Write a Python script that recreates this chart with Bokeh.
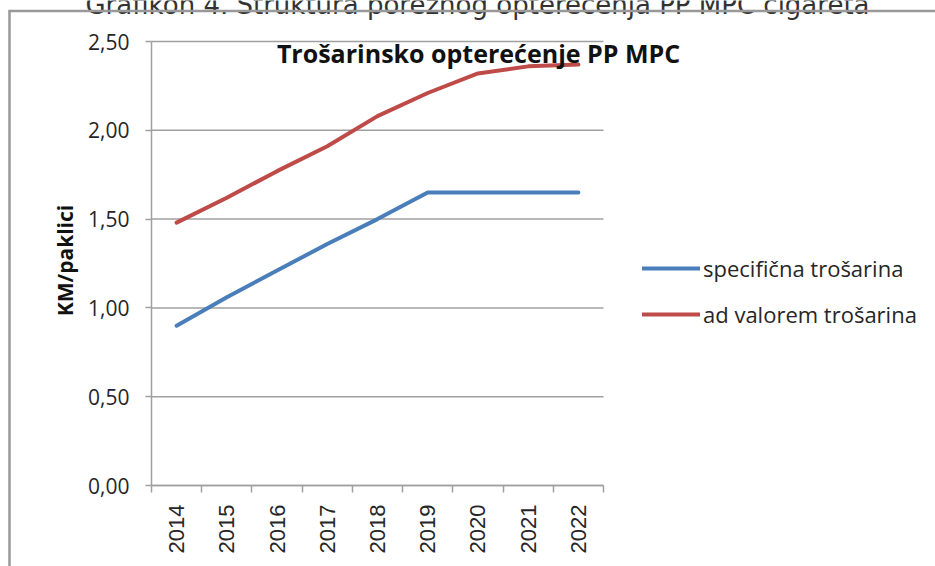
import math
from bokeh.plotting import figure
from bokeh.models import FixedTicker, Label, Arrow, Legend, LegendItem, Range1d
from bokeh.embed import file_html
from bokeh.resources import INLINE

# ---- data ----
years = ["2014", "2015", "2016", "2017", "2018", "2019", "2020", "2021", "2022"]
specificna = [0.90, 1.06, 1.21, 1.36, 1.50, 1.65, 1.65, 1.65, 1.65]
ad_valorem = [1.48, 1.62, 1.77, 1.91, 2.08, 2.21, 2.32, 2.36, 2.37]
y_ticks = [0.0, 0.5, 1.0, 1.5, 2.0, 2.5]
y_tick_labels = ["0,00", "0,50", "1,00", "1,50", "2,00", "2,50"]
series_names = ["specifična trošarina", "ad valorem trošarina"]
chart_title = "Trošarinsko opterećenje PP MPC"
y_label = "KM/paklici"
caption = "Grafikon 4. Struktura poreznog opterećenja PP MPC cigareta"

BLUE = "#4a7ebb"
RED = "#be4b48"
GRID = "#a0a0a0"
TXT = "#262626"

W, H = 935, 566
# pixel placement of the plotting area (page pixels)
PL, PR, PT, PB = 151, 603, 41, 485
n = len(years)
ymax = y_ticks[-1]
sx = (PR - PL) / n
sy = (PB - PT) / ymax


def dx(px):
    return (px - PL) / sx


def dy(py):
    return (PB - py) / sy


p = figure(width=W, height=H, output_backend="svg", toolbar_location=None, title=None,
           x_range=Range1d(dx(0), dx(W)), y_range=Range1d(dy(H), dy(0)),
           min_border=0, min_border_left=0, min_border_right=0,
           min_border_top=0, min_border_bottom=0)
p.outline_line_color = None
p.background_fill_color = "white"
p.border_fill_color = "white"
p.xgrid.visible = False
p.ygrid.visible = False

xs = [i + 0.5 for i in range(n)]

# horizontal gridlines across the category span
p.segment(x0=[0] * len(y_ticks), x1=[n] * len(y_ticks), y0=y_ticks, y1=y_ticks,
          line_color=GRID, line_width=1.5)

r1 = p.line(xs, specificna, line_color=BLUE, line_width=4, line_cap="round", line_join="round")
r2 = p.line(xs, ad_valorem, line_color=RED, line_width=4, line_cap="round", line_join="round")

# x axis
xa = p.xaxis[0]
xa.fixed_location = 0
xa.bounds = (0, n)
xa.ticker = FixedTicker(ticks=xs, minor_ticks=list(range(n + 1)))
xa.major_label_overrides = {x: y for x, y in zip(xs, years)}
xa.major_tick_out = 0
xa.major_tick_in = 0
xa.minor_tick_out = 7
xa.minor_tick_in = 0
xa.minor_tick_line_color = GRID
xa.minor_tick_line_width = 1.5
xa.axis_line_color = GRID
xa.axis_line_width = 1.5
xa.major_label_orientation = math.pi / 2
xa.major_label_standoff = 12
xa.major_label_text_font = "Liberation Sans"
xa.major_label_text_font_size = "22px"
xa.major_label_text_color = TXT

# y axis
ya = p.yaxis[0]
ya.fixed_location = 0
ya.bounds = (0, ymax)
ya.ticker = FixedTicker(ticks=y_ticks)
ya.major_label_overrides = {t: l for t, l in zip(y_ticks, y_tick_labels)}
ya.major_tick_out = 6
ya.major_tick_in = 0
ya.minor_tick_line_color = None
ya.major_tick_line_color = GRID
ya.major_tick_line_width = 1.5
ya.axis_line_color = GRID
ya.axis_line_width = 1.5
ya.major_label_standoff = 16
ya.major_label_text_font = "Open Sans"
ya.major_label_text_font_size = "21px"
ya.major_label_text_color = TXT

# y axis title
p.add_layout(Label(x=dx(64), y=dy(260), text=y_label, angle=math.pi / 2,
                   text_align="center", text_baseline="middle",
                   text_font="Open Sans", text_font_style="bold",
                   text_font_size="21px", text_color="#111111"))

# chart title inside plot
p.add_layout(Label(x=dx(478), y=dy(52), text=chart_title,
                   text_align="center", text_baseline="alphabetic",
                   text_font="Open Sans", text_font_style="bold",
                   text_font_size="25px", text_color="#111111"))

# cut-off caption at very top
p.add_layout(Label(x=dx(477), y=dy(4), text=caption,
                   text_align="center", text_baseline="alphabetic",
                   text_font="DejaVu Sans",
                   text_font_size="26px", text_color="#333333"))

# frame border lines (top and left)
p.add_layout(Arrow(end=None, x_start=dx(8), y_start=dy(10.5), x_end=dx(W + 5), y_end=dy(10.5),
                   line_color="#999999", line_width=2.5))
p.add_layout(Arrow(end=None, x_start=dx(9), y_start=dy(10), x_end=dx(9), y_end=dy(H + 5),
                   line_color="#999999", line_width=2.5))

legend = Legend(items=[LegendItem(label=series_names[0], renderers=[r1]),
                       LegendItem(label=series_names[1], renderers=[r2])],
                location=(642, H - 329), orientation="vertical", padding=0, margin=0,
                spacing=16, glyph_width=58, glyph_height=20, label_height=20,
                label_standoff=3, border_line_color=None, background_fill_alpha=0,
                label_text_font="Open Sans", label_text_font_size="22px",
                label_text_color=TXT)
p.add_layout(legend)

open("out.html", "w").write(file_html(p, INLINE))
